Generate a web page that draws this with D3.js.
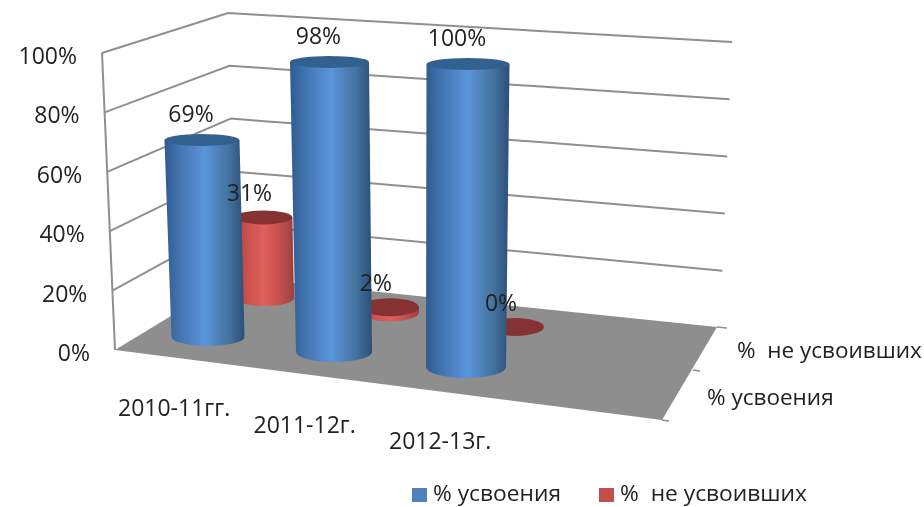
<!DOCTYPE html>
<html><head><meta charset="utf-8">
<script src="https://cdn.jsdelivr.net/npm/d3@7"></script>
<style>html,body{margin:0;padding:0;background:#fff}svg{display:block}text{font-family:"Open Sans",sans-serif;fill:#222;white-space:pre}</style>
</head><body><div id="chart"></div>
<script>
const categories = ["2010-11гг.", "2011-12г.", "2012-13г."];
const seriesNames = ["% усвоения", "%  не усвоивших"];
const absorbed = [69, 98, 100];
const notAbsorbed = [31, 2, 0];
const valueTicks = [0, 20, 40, 60, 80, 100];

const W = 924, H = 507, FS = 23;
const svg = d3.select("#chart").append("svg").attr("width", W).attr("height", H);
const defs = svg.append("defs");
defs.append("filter").attr("id","soft").attr("x","-5%").attr("y","-5%").attr("width","110%").attr("height","110%")
  .append("feGaussianBlur").attr("stdDeviation",0.45);
const root = svg.append("g").attr("filter","url(#soft)");

function grad(id, stops){
  const g = defs.append("linearGradient").attr("id",id).attr("x1","0").attr("x2","1").attr("y1","0").attr("y2","0");
  stops.forEach(([o,c])=>g.append("stop").attr("offset",o).attr("stop-color",c));
}
grad("gBlue",[[0,"#2f5b8e"],[0.18,"#4273b0"],[0.5,"#5b95da"],[0.8,"#44739f"],[1,"#2c4f78"]]);
grad("gRed",[[0,"#a5403e"],[0.2,"#c9504e"],[0.5,"#e05f5c"],[0.8,"#bd4e4c"],[1,"#9a403e"]]);

// Wall geometry: three columns of the 3D box, each with a value scale
const yFront = d3.scaleLinear().domain([0,100]).range([350,53]);
const xFront = d3.scaleLinear().domain([0,100]).range([115,102]);
const yBack  = d3.scaleLinear().domain([0,100]).range([277,13]);
const xBack  = d3.scaleLinear().domain([0,100]).range([235,228]);
const yRight = d3.scaleLinear().domain([0,100]).range([328,42]);
const xRight = d3.scaleLinear().domain([0,100]).range([720,732]);

const GRID = "#8f8f8f";
// floor
root.append("path").attr("d",d3.line()([[115,350],[235,277],[717,327],[662,420]])+"Z").attr("fill","#8e8e8e");
root.selectAll(".tickR").data([[717,327,727,328],[693,370,700,371],[662,420,669,421]]).join("line")
  .attr("x1",d=>d[0]).attr("y1",d=>d[1]).attr("x2",d=>d[2]).attr("y2",d=>d[3]).attr("stroke",GRID).attr("stroke-width",1.5);
// gridlines
const line = d3.line();
root.selectAll(".grid").data(valueTicks.filter(v=>v>0)).join("path")
  .attr("fill","none").attr("stroke",GRID).attr("stroke-width",2)
  .attr("d",v=>line([[xFront(v),yFront(v)],[xBack(v),yBack(v)],[xRight(v),yRight(v)]]));
root.append("line").attr("x1",xFront(0)).attr("y1",yFront(0)).attr("x2",xFront(100)).attr("y2",yFront(100))
  .attr("stroke",GRID).attr("stroke-width",2);

// Bar placement scales: front row (series 0) and back row (series 1)
const catIdx = [0,1,2];
const sc = r => d3.scaleLinear().domain(catIdx).range(r);
const rows = [
  {values:absorbed, fill:"url(#gBlue)", top:"#33608f", bx:sc([208,334,466]), by:sc([337,352,367]),
   ppv:sc([2.855,2.96,3.03]), lean:sc([-0.087,-0.046,0.02]), rb:sc([36.5,38,40]), rt:sc([37.5,39.5,41.5]), ry:sc([9,10,11]), ryTop:sc([6,6,6]), dx:-11, dy:-18},
  {values:notAbsorbed, fill:"url(#gRed)", top:"#873331", bx:sc([265,390,515]), by:sc([298,312.5,327]),
   ppv:sc([2.6,2.65,2.7]), lean:sc([-0.05,-0.02,0]), rb:sc([29,29,29]), rt:sc([29,29,29]), ry:sc([8,9,9]), ryTop:sc([7,9,9]), dx:-14, dy:-16}
];
const labels = [];
[rows[1],rows[0]].forEach(r=>{
  r.values.forEach((v,i)=>{
    const bx=r.bx(i), by=r.by(i), h=v*r.ppv(i), tx=bx+v*r.lean(i), ty=by-h, rb=r.rb(i), rt=r.rt(i);
    const ryB=r.ry(i), ryT=r.ryTop(i);
    const g = root.append("g");
    if(v>0){
      g.append("path").attr("fill",r.fill).attr("d",
        `M${tx-rt},${ty}L${bx-rb},${by}A${rb},${ryB} 0 0 0 ${bx+rb},${by}L${tx+rt},${ty}Z`);
    }
    g.append("ellipse").attr("cx",tx).attr("cy",ty).attr("rx",rt).attr("ry",ryT).attr("fill",r.top);
    labels.push({t:v+"%",x:tx+r.dx,y:ty+r.dy});
  });
});
root.selectAll(".dl").data(labels).join("text").attr("x",d=>d.x).attr("y",d=>d.y).attr("text-anchor","middle").attr("font-size",FS).text(d=>d.t);

// value axis labels
root.selectAll(".yl").data(valueTicks).join("text").attr("text-anchor","end").attr("font-size",FS)
  .attr("x",v=>xFront(v)-25).attr("y",v=>yFront(v)+11).text(v=>v+"%");

// category labels along the floor's front edge
const cx = d3.scaleLinear().domain([0,2]).range([118,389]);
const cy = d3.scaleLinear().domain([0,2]).range([416,449]);
root.selectAll(".cl").data(categories).join("text").attr("font-size",FS).attr("x",(d,i)=>cx(i)).attr("y",(d,i)=>cy(i)).text(d=>d);

// series labels on the depth axis
const sx = d3.scaleLinear().domain([0,1]).range([707,737]);
const sy = d3.scaleLinear().domain([0,1]).range([405,358]);
root.selectAll(".sl").data(seriesNames).join("text").attr("font-size",FS-0.5).attr("x",(d,i)=>sx(i)).attr("y",(d,i)=>sy(i)).text(d=>d);

// legend
const lx = d3.scaleOrdinal().domain(seriesNames).range([412,599]);
const legendColors = ["#4f81bd","#c0504d"];
const lg = root.selectAll(".lg").data(seriesNames).join("g").attr("transform",d=>`translate(${lx(d)},488)`);
lg.append("rect").attr("width",15).attr("height",14).attr("fill",(d,i)=>legendColors[i]);
lg.append("text").attr("x",21).attr("y",12.5).attr("font-size",21)
  .attr("textLength",(d,i)=>[128,187][i]).attr("lengthAdjust","spacingAndGlyphs").text(d=>d);
</script></body></html>
